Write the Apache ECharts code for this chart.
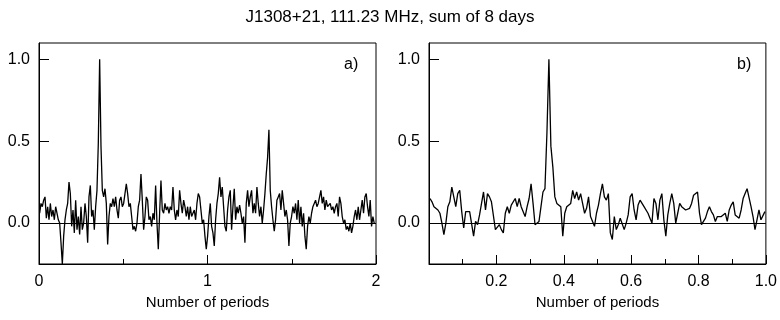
<!DOCTYPE html>
<html>
<head>
<meta charset="utf-8">
<script src="https://cdn.jsdelivr.net/npm/echarts@6/dist/echarts.min.js"></script>
<style>
html,body{margin:0;padding:0;background:#fff;}
#chart{width:780px;height:320px;}
</style>
</head>
<body>
<div id="chart"></div>
<script>
const titleText = 'J1308+21, 111.23 MHz, sum of 8 days';
const xAxisName = 'Number of periods';
const panelLabels = ['a)', 'b)'];

// Panel a: phase 0..2, evenly spaced bins
const aStart = 0.004;
const aStep = 0.00791;
const aValues = [
  0.06,0.12,0.10,0.14,0.16,0.03,0.10,0.02,0.12,0.04,
  0.08,0.02,0.10,0.11,0.02,0.00,-0.12,-0.25,-0.08,0.02,
  0.08,0.12,0.25,0.18,-0.02,0.08,-0.06,0.14,-0.04,0.04,
  -0.07,0.10,-0.04,0.00,0.12,0.04,-0.12,0.16,0.23,0.04,
  0.08,-0.04,0.10,0.20,0.49,1.00,0.47,0.20,0.16,0.21,
  0.12,-0.13,0.04,0.12,0.10,0.15,0.10,0.16,0.08,0.03,
  0.14,0.16,0.10,0.12,
  0.18,0.24,0.18,0.10,0.12,0.04,-0.04,-0.02,-0.05,0.00,
  0.10,0.14,0.30,0.14,-0.04,0.04,0.16,0.14,0.02,0.04,
  -0.02,0.06,0.02,0.23,0.00,-0.16,0.06,0.26,0.08,0.06,
  0.12,0.08,0.10,0.06,0.10,0.08,0.22,0.08,0.02,0.08,
  0.04,0.20,0.12,0.06,0.14,0.10,0.04,0.10,0.02,0.10,
  0.04,0.06,0.08,0.02,0.12,0.18,0.16,0.08,0.00,0.02,
  -0.08,-0.16,-0.08,
  0.04,0.12,-0.02,-0.06,-0.14,0.02,0.12,0.18,0.28,0.16,
  0.22,0.10,-0.02,-0.05,0.08,0.16,0.20,-0.04,0.10,0.21,
  0.02,0.10,0.06,0.11,0.06,0.00,0.04,-0.12,0.12,0.20,
  0.10,0.16,0.20,0.06,0.12,0.06,0.22,0.12,0.04,0.10,
  0.00,0.08,0.18,0.30,0.40,0.57,0.20,0.10,0.02,-0.05,
  0.02,0.14,0.16,0.18,0.08,0.20,0.12,0.04,0.08,0.02,
  -0.14,0.00,0.04,
  0.10,0.06,0.12,0.02,0.14,0.00,0.10,-0.02,0.06,-0.08,
  -0.16,-0.02,0.04,0.00,0.06,0.10,0.12,0.14,0.10,0.12,
  0.16,0.20,0.12,0.16,0.08,0.14,0.10,0.10,0.12,0.08,
  0.10,0.06,0.10,0.12,0.04,0.16,0.12,0.04,0.00,0.02,
  -0.04,-0.02,-0.05,0.00,-0.06,-0.02,0.04,0.08,0.02,0.10,
  0.02,0.08,0.14,0.06,0.16,0.18,0.10,0.04,0.14,-0.02,
  0.04,0.00
];

// Panel b: phase 0..1, evenly spaced bins
const bStart = 0.003;
const bStep = 1 / 170;
const bValues = [
  0.15,0.13,0.10,0.09,0.08,0.06,0.00,-0.07,0.00,0.10,
  0.13,0.22,0.16,0.10,0.18,0.20,0.07,-0.03,0.07,0.06,
  0.07,0.08,-0.08,0.01,-0.01,0.05,0.12,0.19,0.08,0.18,
  0.16,0.13,0.12,-0.04,-0.05,-0.01,-0.04,-0.06,0.06,0.10,
  0.06,0.11,0.10,0.15,0.10,0.15,0.10,0.11,0.04,0.10,
  0.15,0.24,0.12,-0.01,-0.01,0.01,0.10,
  0.19,0.21,0.55,1.00,0.47,0.34,0.16,0.12,0.12,0.10,
  -0.08,0.06,0.10,0.09,0.12,0.20,0.15,0.19,0.14,0.18,
  0.12,0.06,0.09,0.16,0.04,0.03,-0.02,0.06,0.11,0.18,
  0.24,0.16,0.14,0.18,-0.06,-0.10,0.04,-0.04,-0.01,0.03,
  0.02,-0.04,0.00,0.05,0.16,0.18,0.08,0.02,0.11,0.14,
  0.12,0.10,0.09,0.06,0.03,0.00,
  0.15,0.12,0.02,0.14,0.18,0.02,-0.08,0.05,0.12,0.18,
  0.12,0.00,0.06,0.12,0.10,0.11,0.08,0.07,0.09,0.12,
  0.17,0.16,0.19,0.06,-0.01,0.01,0.03,0.07,0.10,0.07,
  0.05,0.01,0.04,0.05,0.04,0.04,0.06,0.01,0.08,0.11,
  0.13,0.05,0.05,0.03,0.08,0.15,0.18,0.21,0.20,0.10,
  0.04,-0.04,0.02,0.08,0.02,0.02,0.07
];

const aTickLabels = [0, 1, 2];
const bTickLabels = [0.2, 0.4, 0.6, 0.8, 1.0];
const yTickLabels = [0, 0.5, 1.0];

const FONT = 'Liberation Sans, Arial, Helvetica, sans-serif';

const aData = aValues.map((v, i) => [aStart + i * aStep, v]);
const bData = bValues.map((v, i) => [bStart + i * bStep, v]);

const chart = echarts.init(document.getElementById('chart'), null, {renderer: 'canvas'});

function xAxisOpt(gridIndex, min, max, interval, labels, fmt) {
  return {
    type: 'value', gridIndex: gridIndex, min: min, max: max, interval: interval,
    name: xAxisName, nameLocation: 'middle', nameGap: 26,
    nameTextStyle: {fontFamily: FONT, fontSize: 15, color: '#000'},
    axisLine: {show: true, onZero: false, lineStyle: {color: '#000', width: 1}},
    axisTick: {show: true, inside: true, length: 9, lineStyle: {color: '#000'}},
    minorTick: {show: true, splitNumber: 2, length: 5, lineStyle: {color: '#000'}},
    splitLine: {show: false},
    axisLabel: {
      show: true, margin: 10, fontFamily: FONT, fontSize: 16, color: '#000',
      formatter: function (v) {
        const ok = labels.some(l => Math.abs(l - v) < 1e-9);
        return ok ? fmt(v) : '';
      }
    }
  };
}

function yAxisOpt(gridIndex) {
  return {
    type: 'value', gridIndex: gridIndex, min: -0.25, max: 1.1,
    axisLine: {show: true, lineStyle: {color: '#000', width: 1}},
    axisTick: {show: true, inside: true, length: 10, customValues: [0.5, 1.0], lineStyle: {color: '#000'}},
    splitLine: {show: false},
    axisLabel: {
      show: true, margin: 9, fontFamily: FONT, fontSize: 16, color: '#000',
      customValues: yTickLabels,
      formatter: function (v) { return v.toFixed(1); }
    }
  };
}

function seriesOpt(idx, data) {
  return {
    type: 'line', xAxisIndex: idx, yAxisIndex: idx, data: data,
    showSymbol: false, symbol: 'none', smooth: false,
    lineStyle: {color: '#000', width: 1.3},
    animation: false,
    markLine: {
      silent: true, symbol: 'none', animation: false,
      label: {show: false},
      lineStyle: {color: '#000', width: 1, type: 'solid'},
      data: [{yAxis: 0}]
    }
  };
}

chart.setOption({
  animation: false,
  backgroundColor: '#fff',
  title: {
    text: titleText, left: 'center', top: 4,
    textStyle: {fontFamily: FONT, fontSize: 17, fontWeight: 'normal', color: '#000'}
  },
  grid: [
    {left: 39, top: 43, width: 337, height: 221, show: true, borderColor: '#000', borderWidth: 1, containLabel: false},
    {left: 429, top: 43, width: 340, height: 221, show: true, borderColor: '#000', borderWidth: 1, containLabel: false}
  ],
  xAxis: [
    xAxisOpt(0, 0, 2, 1, aTickLabels, v => String(Math.round(v))),
    xAxisOpt(1, 0, 1, 0.2, bTickLabels, v => v.toFixed(1))
  ],
  yAxis: [yAxisOpt(0), yAxisOpt(1)],
  graphic: [
    {type: 'text', left: 344, top: 57, style: {text: panelLabels[0], font: '16px ' + FONT, fill: '#000'}},
    {type: 'text', left: 737, top: 57, style: {text: panelLabels[1], font: '16px ' + FONT, fill: '#000'}}
  ],
  series: [seriesOpt(0, aData), seriesOpt(1, bData)]
});
</script>
</body>
</html>
